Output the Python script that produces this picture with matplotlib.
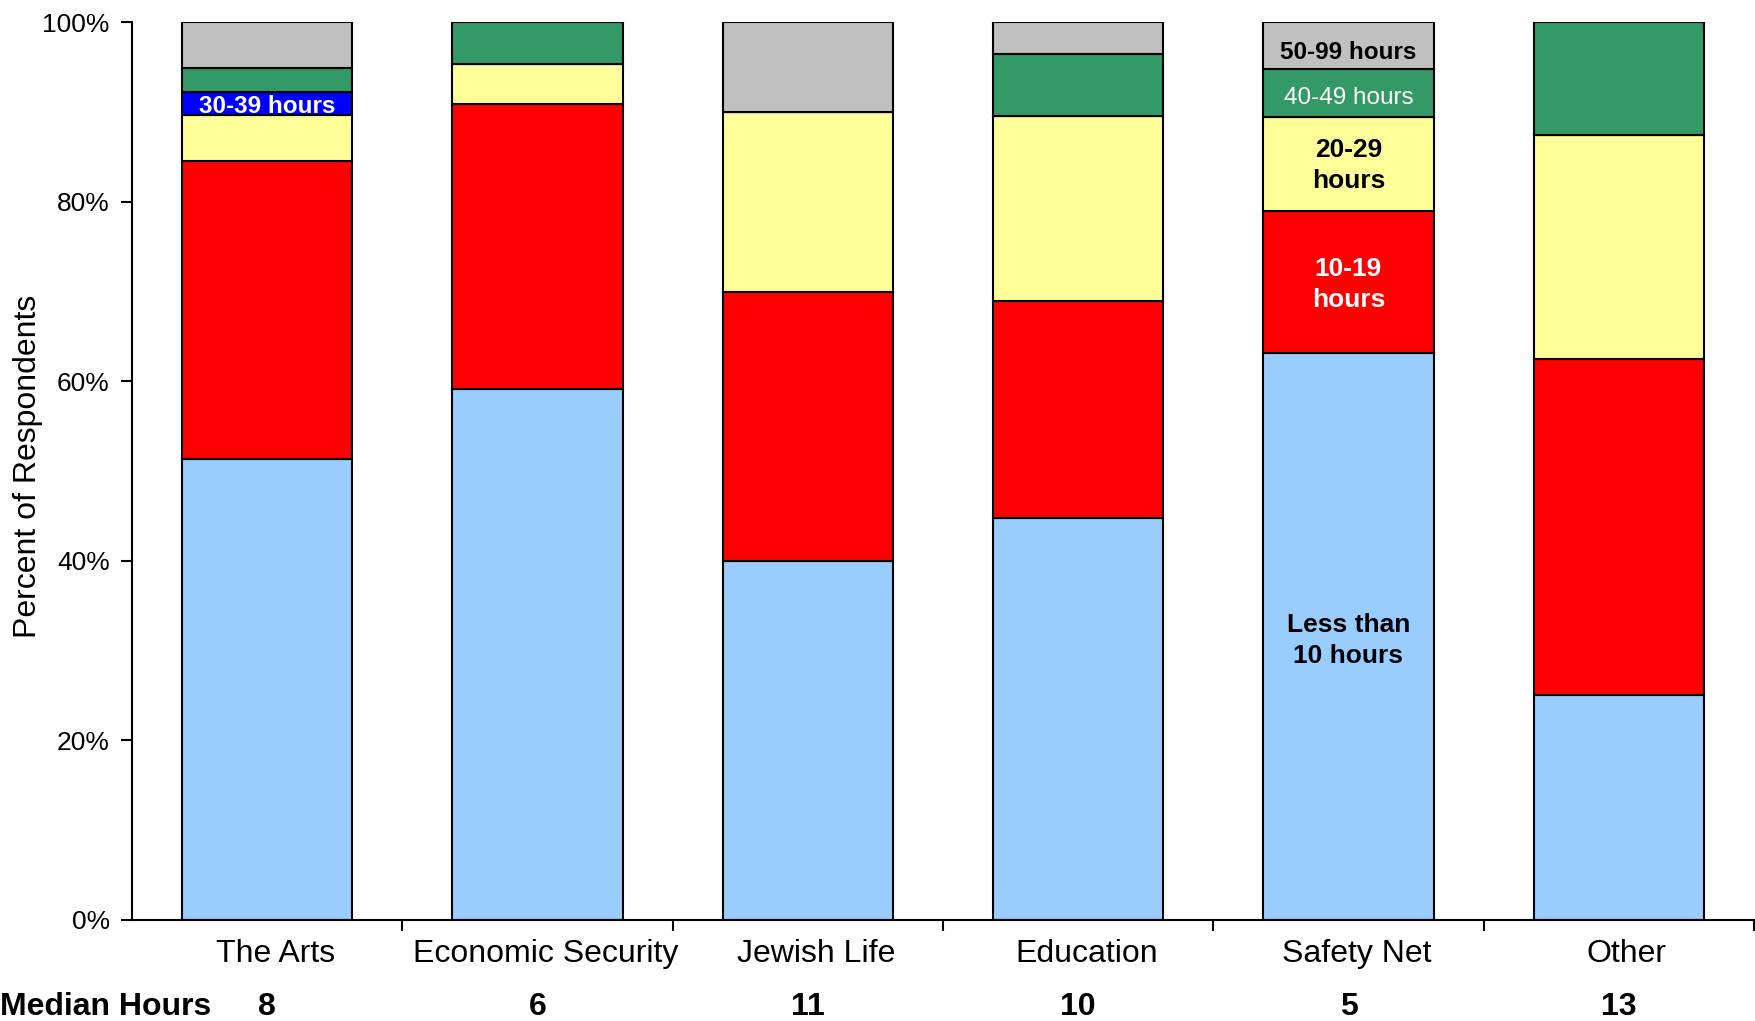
import matplotlib
matplotlib.use('Agg')
import matplotlib.pyplot as plt
import matplotlib.transforms as mtransforms
import numpy as np

plt.rcParams['font.family'] = ['Liberation Sans', 'DejaVu Sans']

# Data (percent of respondents per cause area)
categories = ['The Arts', 'Economic Security', 'Jewish Life', 'Education', 'Safety Net', 'Other']
median_hours = [8, 6, 11, 10, 5, 13]
lt10 = [51.3, 59.1, 40.0, 44.8, 63.2, 25.0]
h10_19 = [33.3, 31.8, 30.0, 24.1, 15.8, 37.5]
h20_29 = [5.1, 4.5, 20.0, 20.7, 10.5, 25.0]
h30_39 = [2.6, 0.0, 0.0, 0.0, 0.0, 0.0]
h40_49 = [2.6, 4.6, 0.0, 6.9, 5.3, 12.5]
h50_99 = [5.1, 0.0, 10.0, 3.5, 5.2, 0.0]

series = [lt10, h10_19, h20_29, h30_39, h40_49, h50_99]
colors = ['#99CCFF', '#FF0000', '#FFFF99', '#0000FF', '#339966', '#C0C0C0']

fig = plt.figure(figsize=(17.56, 10.21), dpi=100)
ax = fig.add_axes([0.0752, 0.0994, 0.9236, 0.8786])

x = np.arange(len(categories))
bottom = np.zeros(len(categories))
for vals, c in zip(series, colors):
    ax.bar(x, vals, bottom=bottom, width=0.63, color=c, edgecolor='black', linewidth=1.5)
    bottom += np.array(vals)

ax.set_xlim(-0.5, len(categories) - 0.5)
ax.set_ylim(0, 100)
ax.set_yticks(np.arange(0, 101, 20))
ax.set_yticklabels([f'{v}%' for v in range(0, 101, 20)], fontsize=19)
# y label placed in figure coords so it is not clipped
fig.text(0.016, 0.543, 'Percent of Respondents', rotation=90,
         ha='center', va='center', fontsize=23)

# category ticks sit between bars
ax.set_xticks(np.arange(0.5, len(categories), 1.0))
ax.set_xticklabels([])
ax.tick_params(axis='x', direction='out', length=8, width=1.5)
ax.tick_params(axis='y', direction='out', length=8, width=1.5, pad=8)
for s in ['top', 'right']:
    ax.spines[s].set_visible(False)
for s in ['left', 'bottom']:
    ax.spines[s].set_linewidth(1.5)

trans = mtransforms.blended_transform_factory(ax.transData, ax.transAxes)
for i, name in enumerate(categories):
    ax.text(i + 0.03, -0.038, name, transform=trans, ha='center', va='center', fontsize=23)
    ax.text(i, -0.098, str(median_hours[i]), transform=trans, ha='center', va='center',
            fontsize=23, fontweight='bold')
ax.text(-0.0815, -0.098, 'Median Hours', transform=ax.transAxes, ha='left', va='center',
        fontsize=23, fontweight='bold')

# segment labels
cum = np.cumsum(np.array(series), axis=0)
sn = categories.index('Safety Net')
mid = lambda k, j: cum[k][j] - series[k][j] / 2
ax.text(sn, mid(0, sn) - 0.5, 'Less than\n10 hours', ha='center', va='center', fontsize=19,
        fontweight='bold', color='black', linespacing=1.35)
ax.text(sn, mid(1, sn) - 0.3, '10-19\nhours', ha='center', va='center', fontsize=19,
        fontweight='bold', color='white', linespacing=1.35)
ax.text(sn, mid(2, sn) - 0.2, '20-29\nhours', ha='center', va='center', fontsize=19,
        fontweight='bold', color='black', linespacing=1.35)
ax.text(sn, mid(4, sn) - 0.6, '40-49 hours', ha='center', va='center', fontsize=17.5,
        color='white')
ax.text(sn, mid(5, sn) - 0.7, '50-99 hours', ha='center', va='center', fontsize=17.5,
        fontweight='bold', color='black')
ax.text(0, mid(3, 0) - 0.4, '30-39 hours', ha='center', va='center', fontsize=17.5,
        fontweight='bold', color='white')

fig.savefig('out.png', dpi=100)
